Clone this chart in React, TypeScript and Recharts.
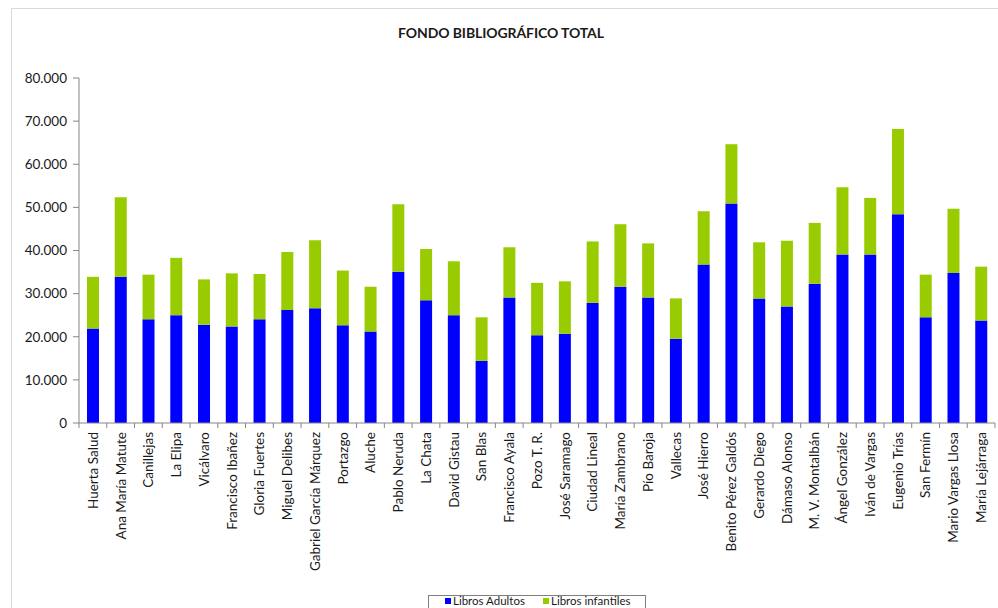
import { BarChart, Bar, XAxis, YAxis } from "recharts";

const bibliotecas = [
  "Huerta Salud",
  "Ana María Matute",
  "Canillejas",
  "La Elipa",
  "Vicálvaro",
  "Francisco Ibañez",
  "Gloria Fuertes",
  "Miguel Delibes",
  "Gabriel García Márquez",
  "Portazgo",
  "Aluche",
  "Pablo Neruda",
  "La Chata",
  "David Gistau",
  "San Blas",
  "Francisco Ayala",
  "Pozo T. R.",
  "José Saramago",
  "Ciudad Lineal",
  "María Zambrano",
  "Pío Baroja",
  "Vallecas",
  "José Hierro",
  "Benito Pérez Galdós",
  "Gerardo Diego",
  "Dámaso Alonso",
  "M. V. Montalbán",
  "Ángel González",
  "Iván de Vargas",
  "Eugenio Trías",
  "San Fermín",
  "Mario Vargas Llosa",
  "María Lejárraga",
];

const librosAdultos = [
  21900, 33900, 24050, 25000, 22800, 22400, 24050, 26200, 26600, 22650, 21200,
  35100, 28450, 25000, 14400, 29100, 20350, 20700, 27850, 31600, 29100, 19550,
  36750, 50900, 28850, 27000, 32300, 39050, 39050, 48400, 24500, 34800, 23750,
];

const librosInfantiles = [
  12000, 18450, 10350, 13300, 10500, 12300, 10500, 13450, 15750, 12700, 10400,
  15600, 11900, 12500, 10100, 11650, 12150, 12150, 14250, 14500, 12550, 9350,
  12350, 13750, 13050, 15250, 14100, 15600, 13150, 19800, 9900, 14900, 12500,
];

const yTicks = [0, 10000, 20000, 30000, 40000, 50000, 60000, 70000, 80000];

const rows = bibliotecas.map((name, i) => ({
  name,
  adultos: librosAdultos[i],
  infantiles: librosInfantiles[i],
}));

const FONT = "Lato, 'Open Sans', sans-serif";
const AXIS = "#868686";
const BLUE = "#0000ff";
const GREEN = "#99cc00";

// thousands with a dot, like the Spanish original
const fmt = (v: number) => String(v).replace(/\B(?=(\d{3})+(?!\d))/g, ".");

const PLOT_W = 916;
const half = PLOT_W / bibliotecas.length / 2;

function CategoryTick(props: any) {
  const { x, y, payload, index } = props;
  return (
    <g transform={`translate(${x},${y})`}>
      {/* Excel-style tick marks between the categories */}
      <line x1={-half} y1={-9} x2={-half} y2={-4} stroke={AXIS} />
      {index === bibliotecas.length - 1 && (
        <line x1={half} y1={-9} x2={half} y2={-4} stroke={AXIS} />
      )}
      <text
        transform="rotate(-90)"
        textAnchor="end"
        dy="0.36em"
        fontSize={13.5}
        fontFamily={FONT}
        fill="#1a1a1a"
      >
        {payload.value}
      </text>
    </g>
  );
}

function LegendItem({ color, label, left }: { color: string; label: string; left: number }) {
  return (
    <div
      style={{
        position: "absolute",
        left,
        top: -3,
        whiteSpace: "nowrap",
        lineHeight: "16px",
      }}
    >
      <span
        style={{
          display: "inline-block",
          width: 6,
          height: 6,
          background: color,
          marginRight: 2,
          verticalAlign: 1,
        }}
      />
      {label}
    </div>
  );
}

export default function App() {
  return (
    <div
      style={{
        position: "absolute",
        left: 0,
        top: 0,
        width: 998,
        height: 608,
        overflow: "hidden",
        background: "#fff",
        fontFamily: FONT,
      }}
    >
      <div
        style={{
          position: "absolute",
          left: 11,
          top: 8,
          width: 1000,
          height: 700,
          border: "1px solid #d9d9d9",
        }}
      />

      <div
        style={{
          position: "absolute",
          left: 2,
          top: 24,
          width: 998,
          textAlign: "center",
          fontSize: 14,
          fontWeight: 700,
          color: "#1a1a1a",
          letterSpacing: -0.1,
        }}
      >
        FONDO BIBLIOGRÁFICO TOTAL
      </div>

      <div style={{ position: "absolute", left: 0, top: 0 }}>
        <BarChart
          width={998}
          height={608}
          data={rows}
          margin={{ top: 78, right: 3, bottom: 5, left: 0 }}
        >
          <XAxis
            dataKey="name"
            interval={0}
            height={180}
            tickLine={false}
            tickSize={5}
            tickMargin={4}
            axisLine={{ stroke: AXIS }}
            tick={<CategoryTick />}
          />
          <YAxis
            width={79}
            domain={[0, 80000]}
            ticks={yTicks}
            tickFormatter={fmt}
            tickSize={6}
            tickMargin={6}
            axisLine={{ stroke: AXIS }}
            tickLine={{ stroke: AXIS }}
            tick={{ fontSize: 13.5, fontFamily: FONT, fill: "#1a1a1a" }}
          />
          <Bar
            dataKey="adultos"
            name="Libros Adultos"
            stackId="a"
            fill={BLUE}
            barSize={12}
            isAnimationActive={false}
          />
          <Bar
            dataKey="infantiles"
            name="Libros infantiles"
            stackId="a"
            fill={GREEN}
            barSize={12}
            isAnimationActive={false}
          />
        </BarChart>
      </div>

      <div
        style={{
          position: "absolute",
          left: 428,
          top: 595,
          width: 216,
          height: 40,
          border: "1px solid #7f7f7f",
          fontSize: 11.5,
          color: "#1a1a1a",
        }}
      >
        <LegendItem color={BLUE} label="Libros Adultos" left={16} />
        <LegendItem color={GREEN} label="Libros infantiles" left={114} />
      </div>
    </div>
  );
}
